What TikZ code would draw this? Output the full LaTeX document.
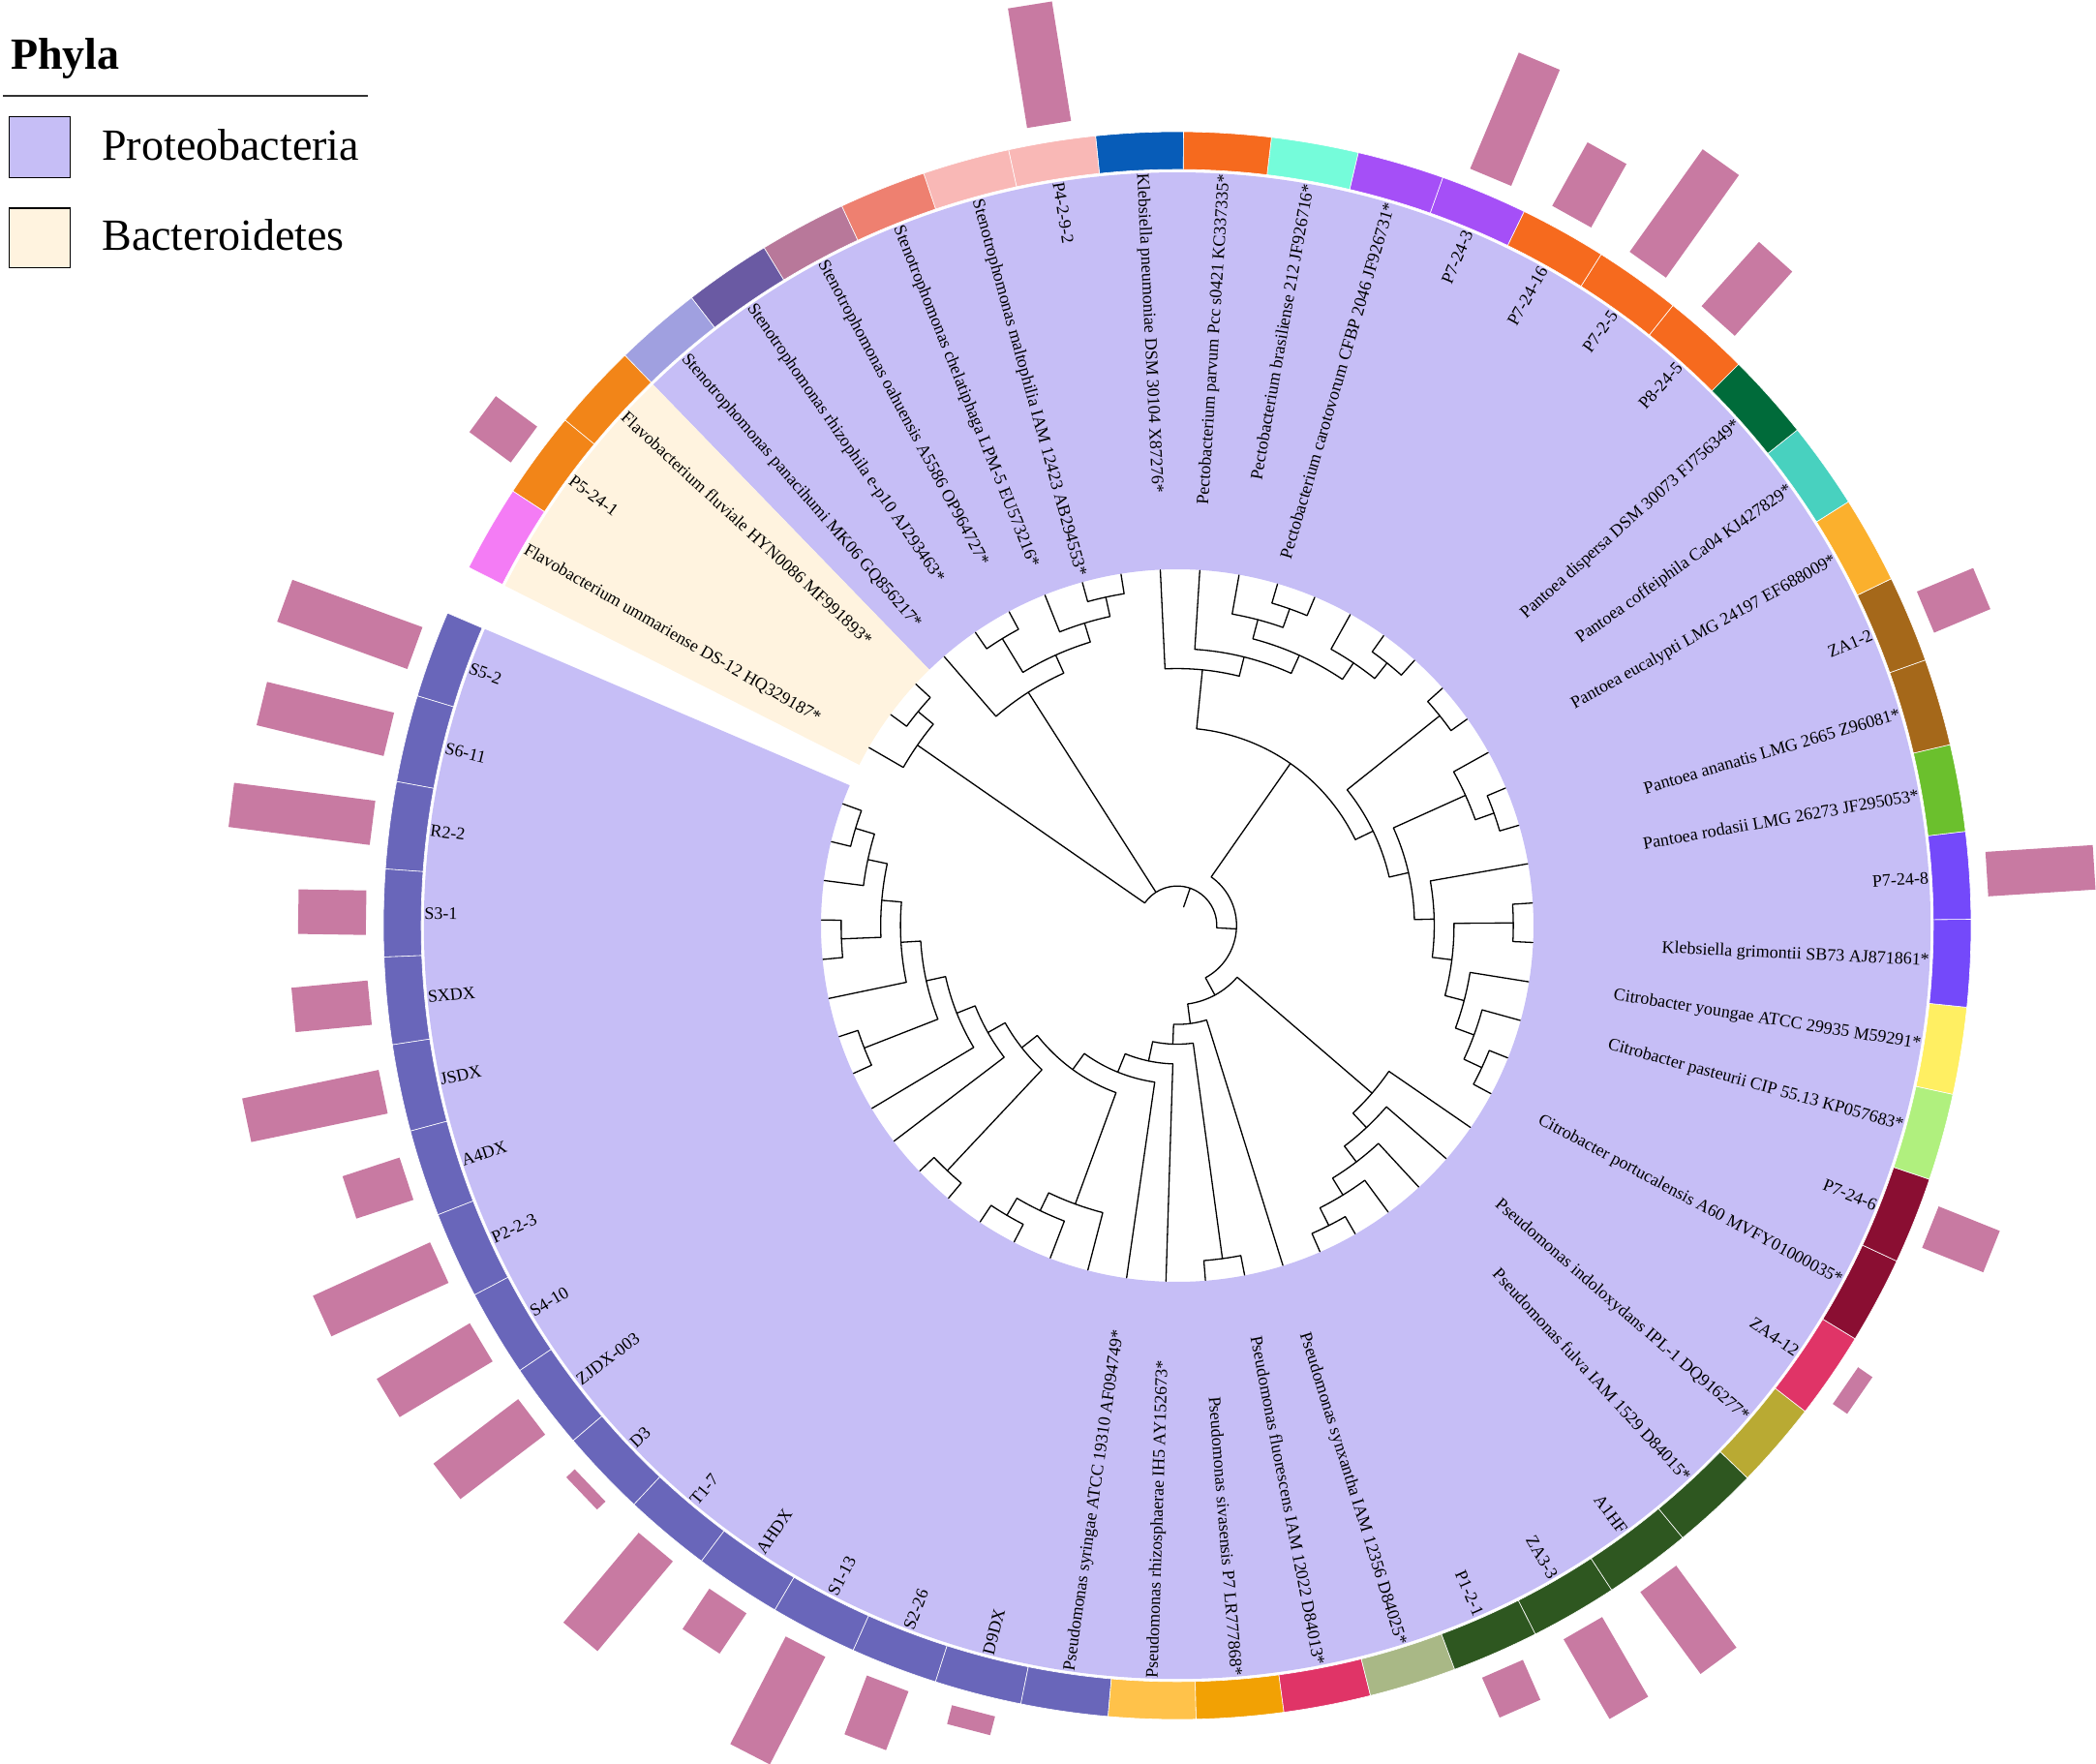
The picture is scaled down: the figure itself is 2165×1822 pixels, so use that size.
\documentclass[tikz,border=0pt]{standalone}
\usepackage{fontspec}
\setmainfont{Liberation Serif}
\definecolor{bgP}{HTML}{C6BEF6}
\definecolor{bgB}{HTML}{FFF3DF}
\definecolor{barc}{HTML}{C87AA2}
\definecolor{cSl}{HTML}{6966BA}
\definecolor{cLo}{HTML}{FFC24A}
\definecolor{cOrb}{HTML}{F2A104}
\definecolor{cCr}{HTML}{E03467}
\definecolor{cSg}{HTML}{A9B886}
\definecolor{cDg}{HTML}{2E5720}
\definecolor{cOl}{HTML}{B9AA33}
\definecolor{cMr}{HTML}{8A0E32}
\definecolor{cLg}{HTML}{B0F07E}
\definecolor{cYe}{HTML}{FFEF62}
\definecolor{cVi}{HTML}{7449FA}
\definecolor{cGr}{HTML}{6BC02D}
\definecolor{cBr}{HTML}{A5681A}
\definecolor{cYo}{HTML}{FBB02D}
\definecolor{cTq}{HTML}{48D1BF}
\definecolor{cDe}{HTML}{006B3A}
\definecolor{cOr}{HTML}{F66A1E}
\definecolor{cPu}{HTML}{A54FF7}
\definecolor{cAq}{HTML}{75FCDA}
\definecolor{cBl}{HTML}{075CB8}
\definecolor{cPk}{HTML}{F9B8B6}
\definecolor{cSa}{HTML}{EE8070}
\definecolor{cMa}{HTML}{B8789A}
\definecolor{cSp}{HTML}{6A5AA3}
\definecolor{cLv}{HTML}{A0A0E0}
\definecolor{cFo}{HTML}{F28518}
\definecolor{cMg}{HTML}{F47CF5}
\newcommand\U{20.42}
\newcommand\tnode[5]{\draw[tree] ({#2}:{#3*\U}) -- ({#2}:{#1*\U}) arc[start angle={#2}, end angle={#4}, radius={#1*\U}] -- ({#4}:{#5*\U});}
\newcommand\sector[5]{\fill[#1] ({#2}:{#4}) -- ({#2}:{#5}) arc[start angle={#2}, end angle={#3}, radius={#5}] -- ({#3}:{#4}) arc[start angle={#3}, end angle={#2}, radius={#4}] -- cycle;}
\begin{document}
\begin{tikzpicture}[x=0.5pt,y=0.5pt,
  tree/.style={line width=0.65pt, line cap=round, line join=round, black},
  lbl/.style={font=\fontsize{9}{10}\selectfont, inner sep=0pt},
  legtxt/.style={font=\fontsize{23}{26}\selectfont, inner sep=0pt, anchor=base west},
  legbox/.style={draw=black, line width=0.7pt}]
\useasboundingbox (-1216,-866) rectangle (949,956);
% background sectors
\sector{bgP}{156.818}{494.091}{368}{778}
\sector{bgB}{494.091}{513.182}{368}{778}
% tree
\tnode{17}{160}{18}{166.364}{18}
\tnode{16}{163.182}{17}{172.727}{18}
\tnode{17}{179.091}{18}{185.455}{18}
\tnode{15}{167.955}{16}{182.273}{17}
\tnode{14}{175.114}{15}{191.818}{18}
\tnode{17}{198.182}{18}{204.545}{18}
\tnode{13}{183.466}{14}{201.364}{17}
\tnode{12}{192.415}{13}{210.909}{18}
\tnode{11}{201.662}{12}{217.273}{18}
\tnode{17}{223.636}{18}{230}{18}
\tnode{10}{209.468}{11}{226.818}{17}
\tnode{17}{236.364}{18}{242.727}{18}
\tnode{16}{239.545}{17}{249.091}{18}
\tnode{15}{244.318}{16}{255.455}{18}
\tnode{9}{218.143}{10}{249.886}{15}
\tnode{8}{234.015}{9}{261.818}{18}
\tnode{7}{247.916}{8}{268.182}{18}
\tnode{17}{274.545}{18}{280.909}{18}
\tnode{6}{258.049}{7}{277.727}{17}
\tnode{5}{267.888}{6}{287.273}{18}
\tnode{17}{293.636}{18}{300}{18}
\tnode{16}{296.818}{17}{306.364}{18}
\tnode{15}{301.591}{16}{312.727}{18}
\tnode{14}{307.159}{15}{319.091}{18}
\tnode{13}{313.125}{14}{325.455}{18}
\tnode{4}{277.580}{5}{319.290}{13}
\tnode{17}{331.818}{18}{338.182}{18}
\tnode{16}{335}{17}{344.545}{18}
\tnode{15}{339.773}{16}{350.909}{18}
\tnode{17}{357.273}{18}{363.636}{18}
\tnode{14}{345.341}{15}{360.455}{17}
\tnode{13}{352.898}{14}{370}{18}
\tnode{17}{376.364}{18}{382.727}{18}
\tnode{16}{379.545}{17}{389.091}{18}
\tnode{12}{361.449}{13}{384.318}{16}
\tnode{17}{395.455}{18}{401.818}{18}
\tnode{11}{372.884}{12}{398.636}{17}
\tnode{17}{408.182}{18}{414.545}{18}
\tnode{16}{411.364}{17}{420.909}{18}
\tnode{17}{427.273}{18}{433.636}{18}
\tnode{16}{430.455}{17}{440}{18}
\tnode{15}{416.136}{16}{435.227}{16}
\tnode{14}{425.682}{15}{446.364}{18}
\tnode{13}{436.023}{14}{452.727}{18}
\tnode{10}{385.76}{11}{444.375}{13}
\tnode{3}{298.435}{4}{415.068}{10}
\tnode{17}{459.091}{18}{465.455}{18}
\tnode{16}{462.273}{17}{471.818}{18}
\tnode{17}{478.182}{18}{484.545}{18}
\tnode{15}{467.045}{16}{481.364}{17}
\tnode{14}{474.205}{15}{490.909}{18}
\tnode{17}{497.273}{18}{503.636}{18}
\tnode{16}{500.455}{17}{510}{18}
\tnode{2}{356.75}{3}{505.227}{16}
\draw[tree] (482.557:{2*\U}) -- (482.557:{14*\U});
\draw[tree] (430.99:{1*\U}) -- (430.99:{2*\U});
% ring, labels, bars
\foreach \i/\lab/\col/\bl in {
 1/S5-2/cSl/143, 2/S6-11/cSl/135, 3/R2-2/cSl/147, 4/S3-1/cSl/70,
 5/SXDX/cSl/79, 6/JSDX/cSl/144, 7/A4DX/cSl/62, 8/P2-2-3/cSl/133,
 9/S4-10/cSl/112, 10/ZJDX-003/cSl/110, 11/D3/cSl/12, 12/T1-7/cSl/121,
 13/AHDX/cSl/50, 14/S1-13/cSl/125, 15/S2-26/cSl/65, 16/D9DX/cSl/20,
 17/Pseudomonas syringae ATCC 19310 AF094749*/cSl/0,
 18/Pseudomonas rhizosphaerae IH5 AY152673*/cLo/0,
 19/Pseudomonas sivasensis P7 LR777868*/cOrb/0,
 20/Pseudomonas fluorescens IAM 12022 D84013*/cCr/0,
 21/Pseudomonas synxantha IAM 12356 D84025*/cSg/0,
 22/P1-2-1/cDg/45, 23/ZA3-3/cDg/95, 24/A1HF/cDg/105,
 25/Pseudomonas fulva IAM 1529 D84015*/cDg/0,
 26/Pseudomonas indoloxydans IPL-1 DQ916277*/cOl/0,
 27/ZA4-12/cCr/18,
 28/Citrobacter portucalensis A60 MVFY01000035*/cMr/0,
 29/P7-24-6/cMr/68,
 30/Citrobacter pasteurii CIP 55.13 KP057683*/cLg/0,
 31/Citrobacter youngae ATCC 29935 M59291*/cYe/0,
 32/Klebsiella grimontii SB73 AJ871861*/cVi/0,
 33/P7-24-8/cVi/111,
 34/Pantoea rodasii LMG 26273 JF295053*/cGr/0,
 35/Pantoea ananatis LMG 2665 Z96081*/cBr/0,
 36/ZA1-2/cBr/63,
 37/Pantoea eucalypti LMG 24197 EF688009*/cYo/0,
 38/Pantoea coffeiphila Ca04 KJ427829*/cTq/0,
 39/Pantoea dispersa DSM 30073 FJ756349*/cDe/0,
 40/P8-24-5/cOr/89, 41/P7-2-5/cOr/130, 42/P7-24-16/cOr/75, 43/P7-24-3/cPu/130,
 44/Pectobacterium carotovorum CFBP 2046 JF926731*/cPu/0,
 45/Pectobacterium brasiliense 212 JF926716*/cAq/0,
 46/Pectobacterium parvum Pcc s0421 KC337335*/cOr/0,
 47/Klebsiella pneumoniae DSM 30104 X87276*/cBl/0,
 48/P4-2-9-2/cPk/125,
 49/Stenotrophomonas maltophilia IAM 12423 AB294553*/cPk/0,
 50/Stenotrophomonas chelatiphaga LPM-5 EU573216*/cSa/0,
 51/Stenotrophomonas oahuensis A5586 OP964727*/cMa/0,
 52/Stenotrophomonas rhizophila e-p10 AJ293463*/cSp/0,
 53/Stenotrophomonas panacihumi MK06 GQ856217*/cLv/0,
 54/Flavobacterium fluviale HYN0086 MF991893*/cFo/0,
 55/P5-24-1/cFo/53,
 56/Flavobacterium ummariense DS-12 HQ329187*/cMg/0}{
  \pgfmathsetmacro\ang{160+(\i-1)*6.363636}
  \pgfmathsetmacro\aa{\ang-3.181818}
  \pgfmathsetmacro\ab{\ang+3.181818}
  \fill[\col, draw=white, line width=0.3pt] (\aa:781) -- (\aa:820) arc[start angle=\aa, end angle=\ab, radius=820] -- (\ab:781) arc[start angle=\ab, end angle=\aa, radius=781] -- cycle;
  \pgfmathtruncatemacro\rgt{cos(\ang)>0 ? 1 : 0}
  \ifnum\rgt=1
    \node[lbl, anchor=east, rotate=\ang] (L\i) at (\ang:778) {\lab};
  \else
    \pgfmathsetmacro\angb{\ang-180}
    \node[lbl, anchor=west, rotate=\angb] (L\i) at (\ang:778) {\lab};
  \fi
  \ifnum\bl>0
    \fill[barc] (\ang:838) ++({\ang+90}:23) -- ++(\ang:\bl) -- ++({\ang-90}:46) -- ++({\ang+180}:\bl) -- cycle;
  \fi
}
% legend
\node[legtxt, font=\fontsize{23}{26}\selectfont\bfseries] (legtitle) at (-1205.3,884) {Phyla};
\draw[line width=1pt, black!80] (-1212.7,857.3) -- (-836,857.3);
\draw[legbox, fill=bgP] (-1206.7,772.7) rectangle (-1143.7,835.3);
\node[legtxt] (legP) at (-1111,790.3) {Proteobacteria};
\draw[legbox, fill=bgB] (-1206.7,679.3) rectangle (-1143.7,741);
\node[legtxt] (legB) at (-1111,697) {Bacteroidetes};
\end{tikzpicture}
\end{document}
